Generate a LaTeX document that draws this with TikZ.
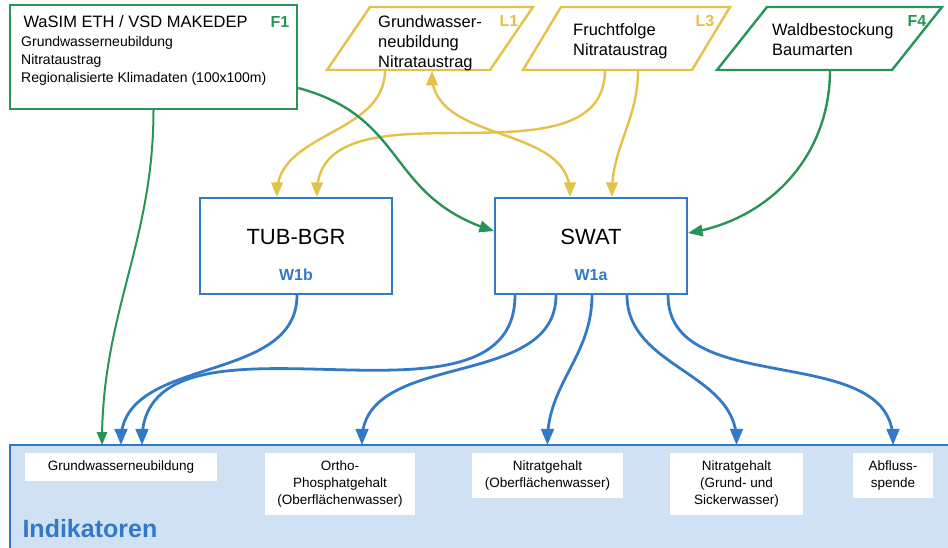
\documentclass[tikz,border=0pt]{standalone}
\usepackage{fontspec}
\setmainfont{Liberation Sans}
\usetikzlibrary{shapes,arrows,calc,positioning}

\definecolor{gruen}{RGB}{40,148,88}
\definecolor{gelb}{RGB}{229,193,74}
\definecolor{blau}{RGB}{50,122,199}
\definecolor{hellblau}{RGB}{207,225,242}

\begin{document}
\begin{tikzpicture}[x=1pt,y=-1pt,>=triangle 45,
    modell/.style={draw=blau,line width=2.4pt,fill=white,minimum width=192pt,minimum height=96pt,inner sep=0pt},
    para/.style={line width=2.4pt,fill=white,line join=miter},
    indbox/.style={fill=white,align=center,inner sep=0pt,font=\fontsize{13.5}{17}\selectfont},
    gross/.style={font=\fontsize{16.5}{20}\selectfont},
    klein/.style={font=\fontsize{14}{18}\selectfont},
    kennung/.style={font=\fontsize{16}{19}\selectfont\bfseries},
    blaupfeil/.style={draw=blau,line width=2.8pt,->},
    gelbpfeil/.style={draw=gelb,line width=2.4pt,->},
    gruenpfeil/.style={draw=gruen,line width=2.4pt,->}]

       \useasboundingbox (0,0) rectangle (948,548);

       \coordinate (gwneu) at (410,70);
       \coordinate (frucht) at (606.5,70);
       \coordinate (wald) at (805,70);

       \node[draw=blau,line width=1.2pt,fill=hellblau,minimum width=944pt,minimum height=108pt,inner sep=0pt] (ind) at (482,499) {};
       \node[font=\fontsize{25}{29}\selectfont\bfseries,text=blau,anchor=base west] (indtitel) at (19,537) {Indikatoren};

       \node[indbox,minimum width=192pt,minimum height=28pt] (gwn) at (121,467) {Grundwasserneubildung};
       \node[indbox,minimum width=150pt,minimum height=62pt] (ortho) at (340,484) {Ortho-\\Phosphatgehalt\\(Oberflächenwasser)};
       \node[indbox,minimum width=151pt,minimum height=45pt] (nob) at (547.5,475.5) {Nitratgehalt\\(Oberflächenwasser)};
       \node[indbox,minimum width=133pt,minimum height=62pt] (ngs) at (736.5,484) {Nitratgehalt\\(Grund- und\\Sickerwasser)};
       \node[indbox,minimum width=80pt,minimum height=45pt] (abf) at (893,475.5) {Abfluss-\\spende};

       \node[draw=gruen,line width=2.4pt,minimum width=287pt,minimum height=104pt,inner sep=0pt] (wasim) at (153.5,57) {};
       \node[gross,anchor=base west] (wasimtitel) at (20,28) {WaSIM ETH / VSD MAKEDEP};
       \node[klein,anchor=north west,align=left,inner sep=0pt] (wasimtext) at (21,36) {Grundwasserneubildung\\Nitrataustrag\\Regionalisierte Klimadaten (100x100m)};
       \node[kennung,text=gruen,anchor=base west] (f1) at (267,28) {F1};

       \draw[para,draw=gelb] (327,70) -- (370,7) -- (533,7) -- (490,70) -- cycle;
       \node[gross,anchor=north west,align=left,inner sep=0pt] (gwneutext) at (378,15) {Grundwasser-\\neubildung\\Nitrataustrag};
       \node[kennung,text=gelb,anchor=base west] (l1) at (496,27) {L1};

       \draw[para,draw=gelb] (523,70) -- (561,7) -- (730,7) -- (692,70) -- cycle;
       \node[gross,anchor=north west,align=left,inner sep=0pt] (fruchttext) at (573,23) {Fruchtfolge\\Nitrataustrag};
       \node[kennung,text=gelb,anchor=base west] (l3) at (692,27) {L3};

       \draw[para,draw=gruen] (717,70) -- (767,7) -- (942,7) -- (892,70) -- cycle;
       \node[gross,anchor=north west,align=left,inner sep=0pt] (waldtext) at (772,23) {Waldbestockung\\Baumarten};
       \node[kennung,text=gruen,anchor=base west] (f4) at (904,27) {F4};

       \node[modell] (tub) at (296,246) {};
       \node[font=\fontsize{22}{26}\selectfont,anchor=base] (tubname) at (296,245) {TUB-BGR};
       \node[kennung,text=blau,anchor=base] (tubid) at (296,280) {W1b};

       \node[modell] (swat) at (591,246) {};
       \node[font=\fontsize{22}{26}\selectfont,anchor=base] (swatname) at (591,245) {SWAT};
       \node[kennung,text=blau,anchor=base] (swatid) at (591,280) {W1a};

       \draw[gelbpfeil] ([xshift=-25pt]gwneu) to[out=-90,in=90] ([xshift=-19pt]tub.north);
       \draw[gelbpfeil] ([xshift=-1.5pt]frucht) to[out=-90,in=90] ([xshift=21pt]tub.north);
       \draw[gelbpfeil,<->] ([xshift=22pt,yshift=-1pt]gwneu) to[out=-90,in=90] ([xshift=-21pt]swat.north);
       \draw[gelbpfeil] ([xshift=31.5pt]frucht) to[out=-90,in=90] ([xshift=21pt]swat.north);

       \draw[gruenpfeil,line width=2pt] (wasim.south) to[out=-90,in=90] ([xshift=-19pt,yshift=8pt]gwn.north);
       \draw[gruenpfeil] ([yshift=-31pt]wasim.east) to[out=-15,in=162,looseness=1.2] ([yshift=15pt]swat.west);
       \draw[gruenpfeil] ([xshift=25pt]wald) to[out=-90,in=10] ([yshift=13pt]swat.east);

       \draw[blaupfeil] ([xshift=1pt]tub.south) to[out=-90,in=90] ([yshift=8pt]gwn.north);
       \draw[blaupfeil] ([xshift=-76pt]swat.south) to[out=-90,in=90] ([xshift=21pt,yshift=8pt]gwn.north);
       \draw[blaupfeil] ([xshift=-35pt]swat.south) to[out=-90,in=90] ([xshift=22pt,yshift=8pt]ortho.north);
       \draw[blaupfeil] ([xshift=1pt]swat.south) to[out=-90,in=90] ([yshift=8pt]nob.north);
       \draw[blaupfeil] ([xshift=36pt]swat.south) to[out=-90,in=90] ([yshift=8pt]ngs.north);
       \draw[blaupfeil] ([xshift=77pt]swat.south) to[out=-90,in=90] ([yshift=8pt]abf.north);
     \end{tikzpicture}
\end{document}
